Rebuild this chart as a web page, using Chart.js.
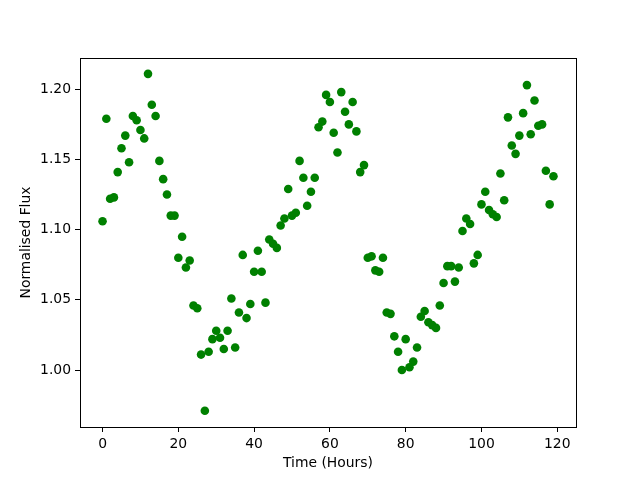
<!DOCTYPE html>
<html>
<head>
<meta charset="utf-8">
<script src="https://cdn.jsdelivr.net/npm/chart.js@4"></script>
<style>
  body { margin: 0; background: #fff; }
  #wrap { width: 640px; height: 480px; }
</style>
</head>
<body>
<div id="wrap"><canvas id="flux-chart" width="640" height="480"></canvas></div>
<script>
// Light curve readings, one per hour
const hours = [
  0, 1, 2, 3, 4, 5, 6, 7, 8, 9, 10, 11, 12, 13, 14, 15, 16, 17, 18, 19,
  20, 21, 22, 23, 24, 25, 26, 27, 28, 29, 30, 31, 32, 33, 34, 35, 36, 37, 38, 39,
  40, 41, 42, 43, 44, 45, 46, 47, 48, 49, 50, 51, 52, 53, 54, 55, 56, 57, 58, 59,
  60, 61, 62, 63, 64, 65, 66, 67, 68, 69, 70, 71, 72, 73, 74, 75, 76, 77, 78, 79,
  80, 81, 82, 83, 84, 85, 86, 87, 88, 89, 90, 91, 92, 93, 94, 95, 96, 97, 98, 99,
  100, 101, 102, 103, 104, 105, 106, 107, 108, 109, 110, 111, 112, 113, 114, 115, 116, 117, 118, 119
];
const flux = [
  1.106, 1.179, 1.122, 1.123, 1.141, 1.158, 1.167, 1.148, 1.181, 1.178,
  1.171, 1.165, 1.211, 1.189, 1.181, 1.149, 1.136, 1.125, 1.110, 1.110,
  1.080, 1.095, 1.073, 1.078, 1.046, 1.044, 1.011, 0.971, 1.013, 1.022,
  1.028, 1.023, 1.015, 1.028, 1.051, 1.016, 1.041, 1.082, 1.037, 1.047,
  1.070, 1.085, 1.070, 1.048, 1.093, 1.090, 1.087, 1.103, 1.108, 1.129,
  1.110, 1.112, 1.149, 1.137, 1.117, 1.127, 1.137, 1.173, 1.177, 1.196,
  1.191, 1.169, 1.155, 1.198, 1.184, 1.175, 1.191, 1.170, 1.141, 1.146,
  1.080, 1.081, 1.071, 1.070, 1.080, 1.041, 1.040, 1.024, 1.013, 1.000,
  1.022, 1.002, 1.006, 1.016, 1.038, 1.042, 1.034, 1.032, 1.030, 1.046,
  1.062, 1.074, 1.074, 1.063, 1.073, 1.099, 1.108, 1.104, 1.076, 1.082,
  1.118, 1.127, 1.114, 1.111, 1.109, 1.140, 1.121, 1.180, 1.160, 1.154,
  1.167, 1.183, 1.203, 1.168, 1.192, 1.174, 1.175, 1.142, 1.118, 1.138
];

Chart.defaults.font.family = "'DejaVu Sans', sans-serif";
Chart.defaults.font.size = 13.9;
Chart.defaults.color = '#000';

// black box round the plot area, like matplotlib spines
const frame = {
  id: 'frame',
  afterDatasetsDraw(chart) {
    const { ctx, chartArea: a } = chart;
    ctx.save();
    ctx.strokeStyle = '#000';
    ctx.lineWidth = 1;
    ctx.strokeRect(Math.round(a.left) + 0.5, Math.round(a.top) + 0.5,
      Math.round(a.right - a.left), Math.round(a.bottom - a.top));
    ctx.restore();
  }
};

const tickGrid = { drawOnChartArea: false, drawTicks: true, tickLength: 5, color: '#000', lineWidth: 1 };

new Chart(document.getElementById('flux-chart'), {
  type: 'scatter',
  data: {
    datasets: [{
      data: hours.map((h, i) => ({ x: h, y: flux[i] })),
      backgroundColor: '#008000',
      pointRadius: 4.3,
      pointBorderWidth: 0,
      pointHoverRadius: 4.3
    }]
  },
  options: {
    responsive: false,
    animation: false,
    events: [],
    layout: { padding: { top: 58, right: 64, bottom: 0, left: 0 } },
    plugins: { legend: { display: false }, tooltip: { enabled: false } },
    scales: {
      x: {
        type: 'linear',
        min: -5.95,
        max: 124.95,
        afterFit: s => { s.height = 53; },
        border: { display: false },
        grid: tickGrid,
        ticks: { stepSize: 20, includeBounds: false, padding: 4, maxRotation: 0, color: '#000' },
        title: { display: true, text: 'Time (Hours)', color: '#000', padding: { top: 0, bottom: 8.6 } }
      },
      y: {
        type: 'linear',
        min: 0.9594,
        max: 1.2223,
        afterFit: s => { s.width = 80; },
        border: { display: false },
        grid: tickGrid,
        ticks: { stepSize: 0.05, includeBounds: false, padding: 4, color: '#000',
          callback: v => v.toFixed(2) },
        title: { display: true, text: 'Normalised Flux', color: '#000', padding: { top: 17.6, bottom: 0 } }
      }
    }
  },
  plugins: [frame]
});
</script>
</body>
</html>
